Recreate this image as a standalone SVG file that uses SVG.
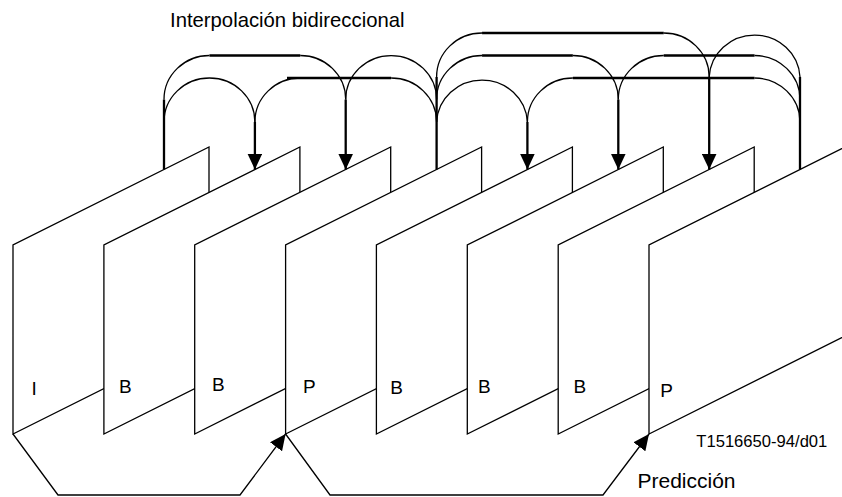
<svg xmlns="http://www.w3.org/2000/svg" width="842" height="497" viewBox="0 0 842 497">
<style>
.frame{fill:#fff;stroke:#000;stroke-width:1.3;stroke-linejoin:miter}
.c{fill:none;stroke:#000;stroke-width:1.3}
.t{fill:none;stroke:#000;stroke-width:2.3}
.b{fill:none;stroke:#000;stroke-width:1.3}
.lbl{font-family:"Liberation Sans",Arial,sans-serif;fill:#000}
</style>
<defs>
<marker id="ah" markerUnits="userSpaceOnUse" viewBox="0 0 16 15" markerWidth="16" markerHeight="15" refX="16" refY="7.5" orient="auto">
<path d="M0,0 L16,7.5 L0,15 z" fill="#000"/>
</marker>
</defs>
<rect width="842" height="497" fill="#fff"/>
<g id="frames">
<g id="frame-I"><polygon class="frame" points="13,434 13,245 209,147 209,336"/><text class="lbl" x="31.5" y="395" font-size="19">I</text></g>
<g id="frame-B1"><polygon class="frame" points="103.9,434 103.9,245 299.9,147 299.9,336"/><text class="lbl" x="119" y="393" font-size="19">B</text></g>
<g id="frame-B2"><polygon class="frame" points="194.7,434 194.7,245 390.7,147 390.7,336"/><text class="lbl" x="212" y="390.5" font-size="19">B</text></g>
<g id="frame-P1"><polygon class="frame" points="285.6,434 285.6,245 481.6,147 481.6,336"/><text class="lbl" x="303" y="393" font-size="19">P</text></g>
<g id="frame-B3"><polygon class="frame" points="376.4,434 376.4,245 572.4,147 572.4,336"/><text class="lbl" x="390.3" y="394" font-size="19">B</text></g>
<g id="frame-B4"><polygon class="frame" points="467.3,434 467.3,245 663.3,147 663.3,336"/><text class="lbl" x="478" y="393" font-size="19">B</text></g>
<g id="frame-B5"><polygon class="frame" points="558.2,434 558.2,245 754.2,147 754.2,336"/><text class="lbl" x="573.6" y="393" font-size="19">B</text></g>
<g id="frame-P2"><polygon class="frame" points="649,434 649,245 845,147 845,336"/><text class="lbl" x="660.3" y="396.5" font-size="19">P</text></g>
</g>
<g id="connectors">
<path class="c" d="M164,122 A45.45,44 0 0 1 254.9,122"/>
<path class="c" d="M164,99.5 A45.45,44 0 0 1 209.45,55.5 M300.25,55.5 A45.45,44 0 0 1 345.7,99.5"/>
<path class="c" d="M254.9,122 A45.45,44 0 0 1 300.35,78 M391.15,78 A45.45,44 0 0 1 436.6,122"/>
<path class="c" d="M345.7,99.5 A45.45,44 0 0 1 436.6,99.5"/>
<path class="c" d="M436.6,122 A45.45,44 0 0 1 527.4,122"/>
<path class="c" d="M436.6,99.5 A45.45,44 0 0 1 482.05,55.5 M572.85,55.5 A45.45,44 0 0 1 618.3,99.5"/>
<path class="c" d="M436.6,77 A45.45,44 0 0 1 482.05,33 M663.75,33 A45.45,44 0 0 1 709.2,77"/>
<path class="c" d="M527.4,122 A45.45,44 0 0 1 572.85,78 M754.55,78 A45.45,44 0 0 1 800,122"/>
<path class="c" d="M618.3,99.5 A45.45,44 0 0 1 663.75,55.5 M754.55,55.5 A45.45,44 0 0 1 800,99.5"/>
<path class="c" d="M709.2,77 A45.45,44 0 0 1 800,77"/>
<path class="t" d="M209.45,55.5 H300.25 M287,78 H391.15 M482.05,55.5 H572.85 M482.05,33 H663.75 M572.85,78 H754.55 M663.75,55.5 H754.55"/>
<path class="t" d="M164,99.5 V169.5 M436.6,77 V169.5 M800,77 V169.5"/>
<path class="t" d="M254.9,122 V169.5" marker-end="url(#ah)"/>
<path class="t" d="M345.7,99.5 V169.5" marker-end="url(#ah)"/>
<path class="t" d="M527.4,122 V169.5" marker-end="url(#ah)"/>
<path class="t" d="M618.3,99.5 V169.5" marker-end="url(#ah)"/>
<path class="t" d="M709.2,77 V169.5" marker-end="url(#ah)"/>
<polyline class="b" points="13,434 58,495 240,495 285.6,434" marker-end="url(#ah)"/>
<polyline class="b" points="285.6,434 330,495 603,495 649,434" marker-end="url(#ah)"/>
</g>
<g id="labels">
<text class="lbl" x="170" y="26.7" font-size="20.3">Interpolación bidireccional</text>
<text class="lbl" x="696.3" y="446.7" font-size="16.6">T1516650-94/d01</text>
<text class="lbl" x="637.5" y="487.7" font-size="21">Predicción</text>
</g>
</svg>
